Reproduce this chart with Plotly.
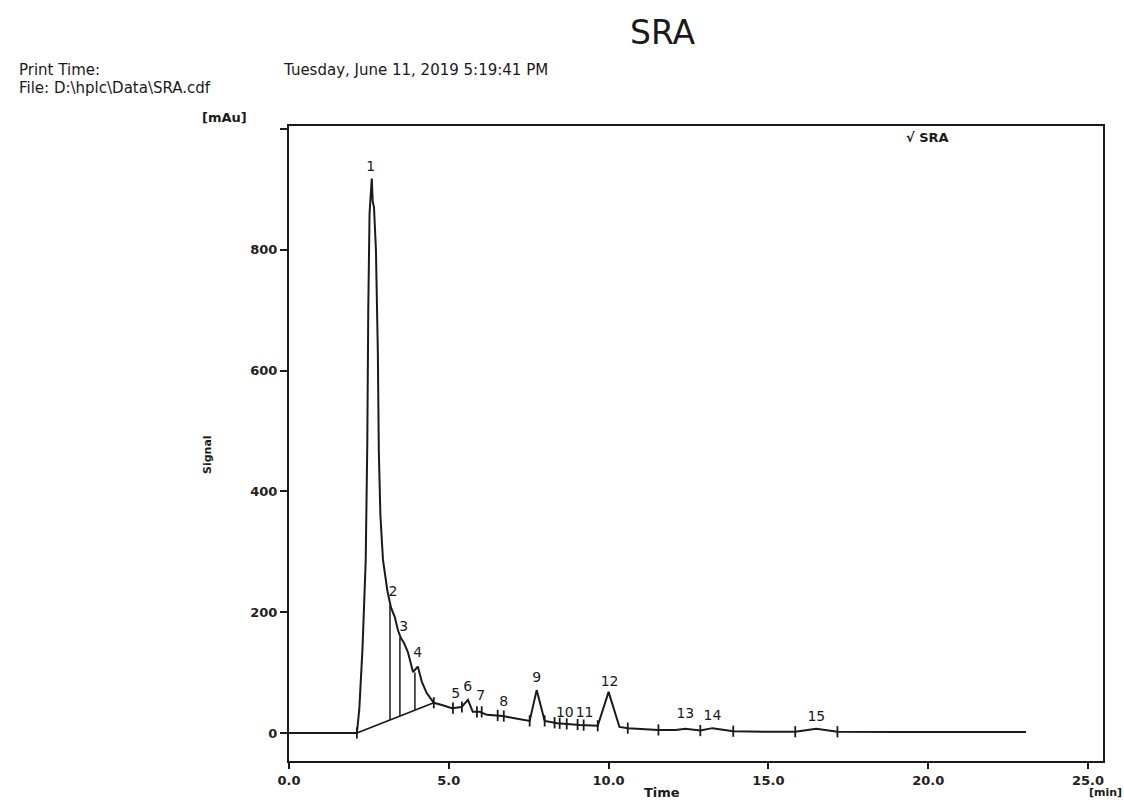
import plotly.graph_objects as go

# ---- data ----
time_min = [0.0, 0.7, 1.3, 2.0, 2.125, 2.2, 2.3, 2.4, 2.45, 2.48, 2.52, 2.59, 2.62, 2.66,
            2.72, 2.78, 2.81, 2.86, 2.94, 3.08, 3.19, 3.31, 3.41, 3.5, 3.59, 3.72, 3.88,
            4.03, 4.16, 4.31, 4.53, 4.81, 5.1, 5.4, 5.6, 5.75, 5.97, 6.19, 6.69, 7.1,
            7.53, 7.75, 8.0, 8.4, 9.1, 9.66, 10.0, 10.34, 10.6, 11.56, 12.1, 12.4, 12.87,
            13.25, 13.9, 15.0, 15.84, 16.5, 17.16, 19.0, 23.06]
signal_mau = [0, 0, 0, 0, 0, 40, 140, 285, 480, 700, 860, 918, 880, 870,
              800, 630, 467, 360, 287, 235, 208, 192, 170, 157, 150, 134, 101,
              110, 84, 66, 50, 46, 41, 43, 55, 35, 35, 30, 28, 24,
              20, 71, 20, 16, 13, 12, 68, 10, 8, 5, 5, 7, 4,
              8, 3, 2, 2, 7, 2, 1.5, 1.5]

# integration baseline under the first peak group
base_t = [2.125, 4.53]
base_s = [0, 50]

# drop lines between fused peaks
drop_t = [3.16, 3.47, 3.94]
drop_top = [212, 158, 100]
drop_bottom = [21, 28, 38]

# integration interval markers
mark_t = [2.125, 4.53, 5.13, 5.41, 5.88, 6.03, 6.53, 6.72, 7.53, 8.0, 8.31, 8.47,
          8.69, 9.03, 9.22, 9.66, 10.6, 11.56, 12.87, 13.9, 15.84, 17.16]
mark_s = [0, 50, 41, 43, 35, 35, 29, 28, 20, 20, 17, 16,
          15, 14, 13, 12, 8, 5, 4, 3, 2, 2]

# peak labels
peak_labels = [str(i) for i in range(1, 16)]
peak_t = [2.56, 3.25, 3.59, 4.03, 5.22, 5.59, 6.0, 6.72, 7.75, 8.63, 9.25, 10.03, 12.4, 13.25, 16.5]
peak_label_s = [937, 232, 174, 132, 63, 75, 60, 50, 91, 33, 33, 83, 30, 28, 25]

x_ticks = [0, 5, 10, 15, 20, 25]
y_ticks = [0, 200, 400, 600, 800, 1000]
y_tick_text = ["0", "200", "400", "600", "800", ""]

W, H = 1124, 800
L, R, T, B = 289, 1103, 126, 761


def px(x):
    return (x - L) / (R - L)


def py(y):
    return (B - y) / (B - T)


FONT = "DejaVu Sans, Liberation Sans, Arial, sans-serif"
INK = "#1a1a1a"

fig = go.Figure()

fig.add_trace(go.Scatter(x=time_min, y=signal_mau, mode="lines",
                         line=dict(color=INK, width=2), name="SRA",
                         showlegend=False, hoverinfo="x+y"))
fig.add_trace(go.Scatter(x=base_t, y=base_s, mode="lines",
                         line=dict(color=INK, width=1.8), showlegend=False,
                         hoverinfo="skip"))
dx, dy = [], []
for t, a, b in zip(drop_t, drop_top, drop_bottom):
    dx += [t, t, None]
    dy += [b, a, None]
fig.add_trace(go.Scatter(x=dx, y=dy, mode="lines",
                         line=dict(color=INK, width=1.5), showlegend=False,
                         hoverinfo="skip"))
fig.add_trace(go.Scatter(x=mark_t, y=mark_s, mode="markers",
                         marker=dict(symbol="line-ns", size=8,
                                     line=dict(color=INK, width=1.8)),
                         showlegend=False, hoverinfo="skip"))
fig.add_trace(go.Scatter(x=peak_t, y=peak_label_s, mode="text", text=peak_labels,
                         textposition="middle center",
                         textfont=dict(family=FONT, size=14, color=INK),
                         showlegend=False, hoverinfo="skip"))

fig.update_xaxes(range=[0, 25.47], tickvals=x_ticks,
                 ticktext=[f"{v:.1f}" for v in x_ticks],
                 showgrid=False, zeroline=False, showline=True, mirror=True,
                 linecolor=INK, linewidth=2, ticks="outside", ticklen=6,
                 tickcolor=INK, tickwidth=1.5,
                 tickfont=dict(family=FONT, size=13, color="#222", weight="bold"))
fig.update_yaxes(range=[-46.4, 1005], tickvals=y_ticks, ticktext=y_tick_text,
                 showgrid=False, zeroline=False, showline=True, mirror=True,
                 linecolor=INK, linewidth=2, ticks="outside", ticklen=7,
                 tickcolor=INK, tickwidth=1.5,
                 tickfont=dict(family=FONT, size=13, color="#222", weight="bold"))

ann = [
    dict(text="SRA", x=px(663), y=py(33), size=33, xanchor="center", yanchor="middle"),
    dict(text="Print Time:", x=px(18), y=py(70), size=15, xanchor="left", yanchor="middle"),
    dict(text="Tuesday, June 11, 2019 5:19:41 PM", x=px(282), y=py(70), size=15,
         xanchor="left", yanchor="middle"),
    dict(text="File: D:\\hplc\\Data\\SRA.cdf", x=px(18), y=py(88), size=15,
         xanchor="left", yanchor="middle"),
    dict(text="<b>[mAu]</b>", x=px(224), y=py(117), size=13, xanchor="center", yanchor="middle"),
    dict(text="<b>Time</b>", x=px(662), y=py(792), size=13, xanchor="center", yanchor="middle"),
    dict(text="<b>[min]</b>", x=px(1123), y=py(800), size=11, xanchor="right", yanchor="bottom"),
    dict(text="<b>\u221a SRA</b>", x=px(905), y=py(137), size=13, xanchor="left", yanchor="middle"),
]
annotations = []
for a in ann:
    annotations.append(dict(text=a["text"], x=a["x"], y=a["y"], xref="paper", yref="paper",
                            xanchor=a["xanchor"], yanchor=a["yanchor"], showarrow=False,
                            borderpad=0,
                            font=dict(family=FONT, size=a["size"], color=INK)))
annotations.append(dict(text="<b>Signal</b>", x=px(208), y=py(455), xref="paper", yref="paper",
                        xanchor="center", yanchor="middle", showarrow=False, textangle=-90,
                        font=dict(family=FONT, size=11, color=INK)))

fig.update_layout(width=W, height=H, margin=dict(l=L, r=W - R, t=T, b=H - B),
                  paper_bgcolor="white", plot_bgcolor="white",
                  annotations=annotations, showlegend=False)

fig.write_html("out.html")
